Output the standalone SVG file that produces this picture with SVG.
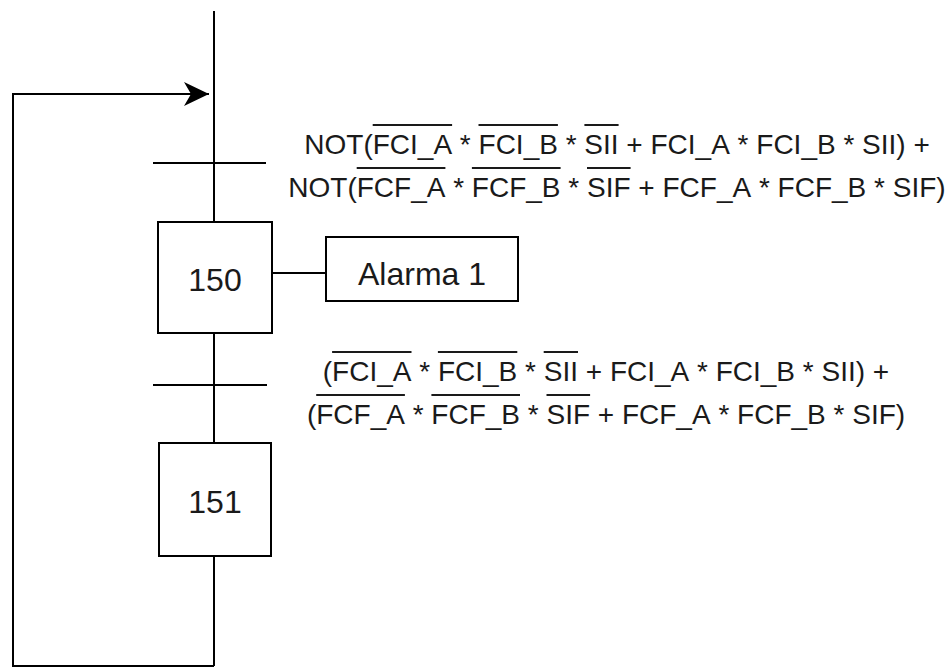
<svg xmlns="http://www.w3.org/2000/svg" width="951" height="668" viewBox="0 0 951 668">
  <style>
    .ln { stroke: #000; stroke-width: 2; fill: none; }
    .box { stroke: #000; stroke-width: 2; fill: #fff; }
    .bar { stroke: #000; stroke-width: 2; }
    .ovl { stroke: #1a1a1a; stroke-width: 2; }
    .cond { font-family: "Liberation Sans", Arial, sans-serif; font-size: 28px; fill: #1a1a1a; font-kerning: none; }
    .lbl { font-family: "Liberation Sans", Arial, sans-serif; font-size: 32px; fill: #1a1a1a; text-anchor: middle; font-kerning: none; }
  </style>
  <defs>
    <marker id="arr" markerUnits="userSpaceOnUse" markerWidth="26" markerHeight="26" viewBox="0 0 26 26" refX="25" refY="13" orient="auto">
      <path d="M25,13 L0,1 L7,13 L0,25 Z" fill="#000"/>
    </marker>
  </defs>
  <rect width="951" height="668" fill="#fff"/>

  <g id="connectors">
    <line class="ln" x1="214" y1="11" x2="214" y2="222"/>
    <line class="ln" x1="214" y1="333" x2="214" y2="443"/>
    <line class="ln" x1="214" y1="556" x2="214" y2="666"/>
    <polyline class="ln" points="214,666 13,666 13,94 209,94" marker-end="url(#arr)"/>
    <line class="ln" x1="272" y1="273" x2="326" y2="273"/>
  </g>

  <g id="transition1">
    <line class="bar" x1="153" y1="163" x2="266" y2="163"/>
    <text class="cond" x="304.3" y="154">NOT(FCI_A * FCI_B * SII + FCI_A * FCI_B * SII) +</text>
    <text class="cond" x="288.3" y="197">NOT(FCF_A * FCF_B * SIF + FCF_A * FCF_B * SIF)</text>
    <line class="ovl" x1="372.7" y1="125" x2="452.1" y2="125"/>
    <line class="ovl" x1="478.5" y1="125" x2="557.9" y2="125"/>
    <line class="ovl" x1="584.4" y1="125" x2="618.6" y2="125"/>
    <line class="ovl" x1="356.7" y1="168" x2="445.4" y2="168"/>
    <line class="ovl" x1="471.9" y1="168" x2="560.6" y2="168"/>
    <line class="ovl" x1="587.0" y1="168" x2="630.6" y2="168"/>
  </g>

  <g id="step150">
    <rect class="box" x="158" y="222" width="114" height="111"/>
    <text class="lbl" x="215" y="291">150</text>
  </g>

  <g id="alarma1">
    <rect class="box" x="326" y="237" width="192" height="64"/>
    <text class="lbl" x="422" y="285">Alarma 1</text>
  </g>

  <g id="transition2">
    <line class="bar" x1="153" y1="385" x2="267" y2="385"/>
    <text class="cond" x="322.8" y="381">(FCI_A * FCI_B * SII + FCI_A * FCI_B * SII) +</text>
    <text class="cond" x="306.9" y="424">(FCF_A * FCF_B * SIF + FCF_A * FCF_B * SIF)</text>
    <line class="ovl" x1="332.1" y1="352" x2="411.5" y2="352"/>
    <line class="ovl" x1="437.9" y1="352" x2="517.3" y2="352"/>
    <line class="ovl" x1="543.7" y1="352" x2="578.0" y2="352"/>
    <line class="ovl" x1="316.2" y1="395" x2="404.9" y2="395"/>
    <line class="ovl" x1="431.4" y1="395" x2="520.0" y2="395"/>
    <line class="ovl" x1="546.5" y1="395" x2="590.1" y2="395"/>
  </g>

  <g id="step151">
    <rect class="box" x="159" y="443" width="112" height="113"/>
    <text class="lbl" x="215" y="513">151</text>
  </g>
</svg>
